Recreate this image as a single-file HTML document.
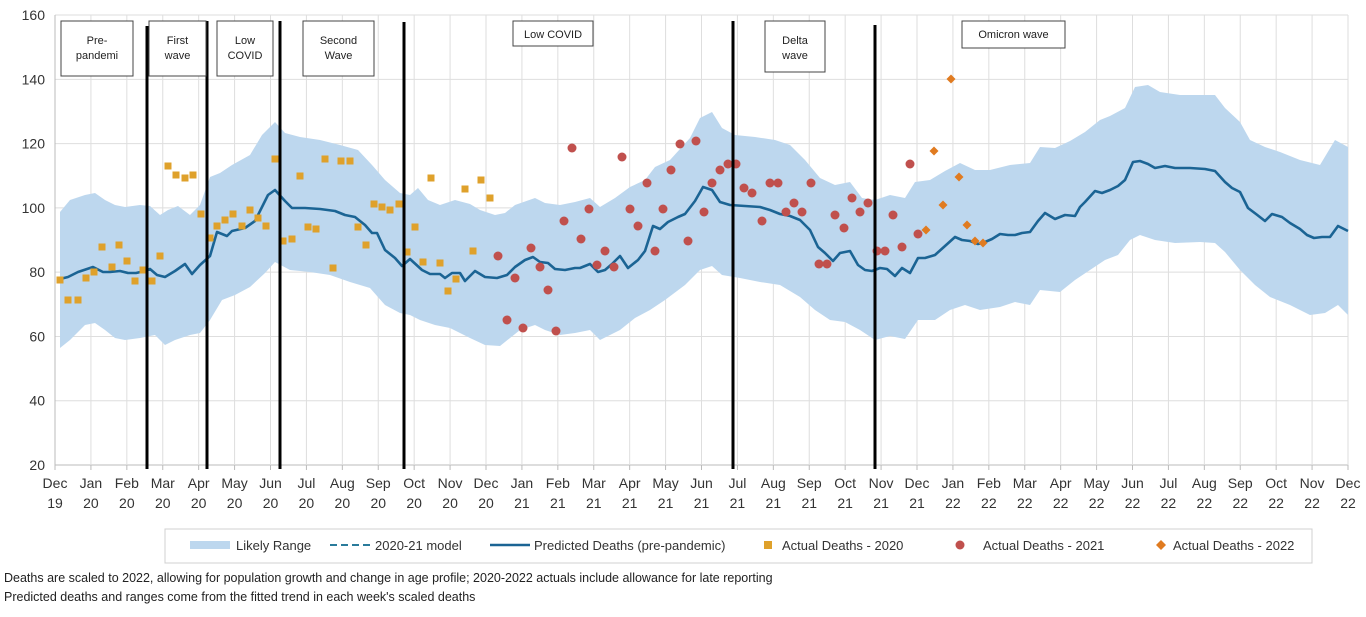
<!DOCTYPE html>
<html><head><meta charset="utf-8"><style>
body{margin:0;background:#fff;width:1366px;height:612px;overflow:hidden;font-family:"Liberation Sans",Arial,sans-serif}
svg text{font-family:"Liberation Sans",Arial,sans-serif}
</style></head><body>
<svg id="s" width="1366" height="612" xmlns="http://www.w3.org/2000/svg">
<g id="grid"></g>
<path id="band" fill="#bdd7ee"/>
<polyline id="pred" fill="none" stroke="#1b6494" stroke-width="2.6" stroke-linejoin="round"/>
<g id="pts"></g>
<g id="vl" stroke="#000" stroke-width="3"></g>
<g id="boxes" font-size="11" fill="#222"></g>
<g id="ax" font-size="14" fill="#333"></g>
<rect x="165" y="529" width="1147" height="34" fill="#fff" stroke="#d0d0d0"/>
<rect x="190" y="541" width="40" height="8" fill="#bdd7ee"/>
<text x="236" y="550" font-size="13" fill="#333">Likely Range</text>
<line x1="330" y1="545" x2="372" y2="545" stroke="#2a7b9b" stroke-width="2" stroke-dasharray="7,4"/>
<text x="375" y="550" font-size="13" fill="#333">2020-21 model</text>
<line x1="490" y1="545" x2="530" y2="545" stroke="#1b6494" stroke-width="2.6"/>
<text x="534" y="550" font-size="13" fill="#333">Predicted Deaths (pre-pandemic)</text>
<rect x="764" y="541" width="8" height="8" fill="#dfa12b"/>
<text x="782" y="550" font-size="13" fill="#333">Actual Deaths - 2020</text>
<circle cx="960" cy="545" r="4.5" fill="#c0504d"/>
<text x="983" y="550" font-size="13" fill="#333">Actual Deaths - 2021</text>
<path d="M1161 540 L1166 545 L1161 550 L1156 545Z" fill="#e07b20"/>
<text x="1173" y="550" font-size="13" fill="#333">Actual Deaths - 2022</text>
<text x="4" y="582" font-size="12.5" fill="#222">Deaths are scaled to 2022,  allowing for population growth and change in age profile; 2020-2022  actuals include allowance for late reporting</text>
<text x="4" y="601" font-size="12.5" fill="#222">Predicted deaths and ranges come from the fitted trend in each week's scaled deaths</text>
</svg>
<script>
var NS="http://www.w3.org/2000/svg";
function el(p,t,a,txt){var e=document.createElementNS(NS,t);for(var k in a)e.setAttribute(k,a[k]);if(txt!=null)e.textContent=txt;document.getElementById(p).appendChild(e);return e;}
var X0=55,X1=1348,mw=(X1-X0)/36;
function Y(v){return 465-(v-20)*3.214;}
for(var v=20;v<=160;v+=20){el('grid','line',{x1:X0,x2:X1,y1:Y(v),y2:Y(v),stroke:v==20?'#bbb':'#dedede','stroke-width':1});el('ax','text',{x:X0-10,y:Y(v)+5,'text-anchor':'end'},v);}
el('grid','line',{x1:X0,x2:X0,y1:Y(160),y2:Y(20),stroke:'#bbb'});
var mn=['Dec','Jan','Feb','Mar','Apr','May','Jun','Jul','Aug','Sep','Oct','Nov'];
for(var i=0;i<=36;i++){var x=X0+i*mw;if(i>0)el('grid','line',{x1:x,x2:x,y1:Y(160),y2:Y(20),stroke:'#dedede'});el('grid','line',{x1:x,x2:x,y1:465,y2:470,stroke:'#bbb'});
var yr=19+Math.floor((i+11)/12);el('ax','text',{x:x,y:488,'text-anchor':'middle'},mn[i%12]);el('ax','text',{x:x,y:508,'text-anchor':'middle'},yr);}
var up=[[60,212],[70,200],[85,195],[95,193],[105,200],[115,205],[125,207],[140,205],[150,206],[160,215],[168,210],[178,206],[190,215],[200,205],[210,177],[220,173],[232,165],[250,155],[262,135],[275,122],[285,133],[300,137],[320,140],[340,145],[358,150],[372,165],[385,180],[400,193],[410,195],[418,188],[428,200],[440,205],[455,200],[470,204],[480,210],[495,215],[505,213],[515,205],[535,198],[545,203],[560,205],[575,202],[590,198],[600,207],[615,198],[630,187],[645,180],[655,167],[670,160],[690,138],[700,118],[712,112],[722,128],[735,135],[755,137],[775,140],[790,145],[805,160],[820,178],[835,185],[850,182],[862,198],[875,200],[890,195],[905,198],[915,182],[930,180],[945,171],[960,163],[975,170],[990,170],[1010,165],[1030,163],[1040,147],[1055,148],[1070,141],[1085,132],[1100,120],[1110,116],[1125,108],[1135,87],[1148,85],[1160,92],[1180,95],[1200,95],[1215,95],[1225,108],[1240,122],[1250,140],[1265,147],[1280,152],[1300,160],[1320,165],[1335,140],[1348,147]];
var lo=[[60,348],[70,340],[85,325],[95,323],[105,330],[115,338],[125,340],[140,338],[155,335],[165,345],[175,340],[190,335],[200,333],[210,320],[222,300],[235,295],[250,287],[265,273],[275,262],[290,270],[310,272],[330,275],[350,282],[370,288],[385,305],[400,313],[410,315],[420,320],[435,325],[450,328],[470,338],[485,345],[500,346],[520,330],[535,325],[545,330],[560,335],[575,333],[590,330],[600,340],[620,330],[635,318],[650,310],[665,300],[685,285],[700,270],[712,266],[722,275],[740,278],[760,282],[780,285],[800,297],[815,310],[830,320],[845,322],[860,330],[875,340],[890,336],[905,339],[918,320],[935,320],[950,310],[965,305],[980,310],[1000,307],[1015,302],[1030,305],[1040,290],[1060,292],[1075,280],[1090,270],[1105,260],[1118,255],[1130,240],[1140,235],[1155,240],[1175,243],[1200,242],[1215,243],[1225,252],[1240,270],[1255,285],[1270,297],[1290,305],[1310,315],[1325,313],[1338,305],[1348,315]];
var d='M'+up.map(function(p){return p.join(' ')}).join(' L')+' L'+lo.slice().reverse().map(function(p){return p.join(' ')}).join(' L')+'Z';
document.getElementById('band').setAttribute('d',d);
var pr=[[60,279],[68,277],[78,272],[93,267],[103,272],[110,272],[120,271],[128,273],[136,273],[145,271],[150,269],[157,275],[165,277],[175,271],[185,264],[192,274],[200,265],[210,256],[217,232],[227,236],[232,231],[245,228],[255,221],[268,195],[275,190],[285,201],[292,208],[305,208],[320,209],[335,211],[345,215],[355,217],[365,225],[372,233],[377,233],[385,250],[395,258],[402,266],[410,259],[422,270],[430,274],[440,274],[445,278],[452,273],[460,273],[465,281],[475,271],[485,277],[497,278],[507,275],[515,267],[525,260],[533,257],[540,262],[548,263],[555,269],[565,270],[575,268],[580,268],[590,264],[598,272],[605,270],[612,264],[620,256],[628,268],[638,260],[645,251],[653,226],[660,229],[668,222],[678,217],[685,214],[695,201],[703,187],[712,190],[720,202],[730,205],[745,206],[760,207],[770,210],[780,214],[790,216],[800,220],[810,230],[818,247],[825,253],[833,261],[840,253],[850,251],[858,265],[865,270],[872,271],[880,268],[887,269],[895,276],[902,268],[910,273],[918,258],[925,258],[935,255],[945,246],[955,237],[962,240],[970,241],[978,244],[985,242],[992,239],[1000,234],[1008,235],[1015,235],[1022,233],[1030,232],[1038,221],[1045,213],[1055,219],[1065,215],[1075,216],[1080,207],[1085,202],[1095,191],[1102,193],[1110,190],[1118,186],[1125,180],[1133,162],[1140,161],[1148,164],[1155,168],[1165,166],[1175,168],[1190,168],[1205,169],[1215,171],[1225,182],[1232,188],[1240,192],[1248,208],[1256,214],[1265,221],[1272,214],[1282,217],[1290,223],[1300,229],[1307,235],[1314,238],[1322,237],[1330,237],[1338,226],[1348,231]];
document.getElementById('pred').setAttribute('points',pr.map(function(p){return p.join(',')}).join(' '));
var s20=[[60,280],[68,300],[78,300],[86,278],[94,272],[102,247],[112,267],[119,245],[127,261],[135,281],[143,270],[152,281],[160,256],[168,166],[176,175],[185,178],[193,175],[201,214],[210,238],[217,226],[225,220],[233,214],[242,226],[250,210],[258,218],[266,226],[275,159],[283,241],[292,239],[300,176],[308,227],[316,229],[325,159],[333,268],[341,161],[350,161],[358,227],[366,245],[374,204],[382,207],[390,210],[399,204],[407,252],[415,227],[423,262],[431,178],[440,263],[448,291],[456,279],[465,189],[473,251],[481,180],[490,198]];
s20.forEach(function(p){el('pts','rect',{x:p[0]-3.5,y:p[1]-3.5,width:7,height:7,fill:'#dfa12b'});});
var s21=[[498,256],[507,320],[515,278],[523,328],[531,248],[540,267],[548,290],[556,331],[564,221],[572,148],[581,239],[589,209],[597,265],[605,251],[614,267],[622,157],[630,209],[638,226],[647,183],[655,251],[663,209],[671,170],[680,144],[688,241],[696,141],[704,212],[712,183],[720,170],[728,164],[736,164],[744,188],[752,193],[762,221],[770,183],[778,183],[786,212],[794,203],[802,212],[811,183],[819,264],[827,264],[835,215],[844,228],[852,198],[860,212],[868,203],[877,251],[885,251],[893,215],[902,247],[910,164],[918,234]];
s21.forEach(function(p){el('pts','circle',{cx:p[0],cy:p[1],r:4.5,fill:'#c0504d'});});
var s22=[[926,230],[934,151],[943,205],[951,79],[959,177],[967,225],[975,241],[983,243]];
s22.forEach(function(p){var x=p[0],y=p[1];el('pts','path',{d:'M'+x+' '+(y-4.5)+' L'+(x+4.5)+' '+y+' L'+x+' '+(y+4.5)+' L'+(x-4.5)+' '+y+'Z',fill:'#e07b20'});});
[[147,26],[207,21],[280,21],[404,22],[733,21],[875,25]].forEach(function(v){el('vl','line',{x1:v[0],x2:v[0],y1:v[1],y2:469});});
[[61,21,72,55,['Pre-','pandemi']],[149,21,57,55,['First','wave']],[217,21,56,55,['Low','COVID']],[303,21,71,55,['Second','Wave']],[513,21,80,25,['Low COVID']],[765,21,60,51,['Delta','wave']],[962,21,103,27,['Omicron wave']]].forEach(function(b){
el('boxes','rect',{x:b[0],y:b[1],width:b[2],height:b[3],fill:'#fff',stroke:'#444','stroke-width':1});
var n=b[4].length;b[4].forEach(function(t,i){el('boxes','text',{x:b[0]+b[2]/2,y:b[1]+(n==1?17:23+i*15),'text-anchor':'middle'},t);});});
</script>
</body></html>
